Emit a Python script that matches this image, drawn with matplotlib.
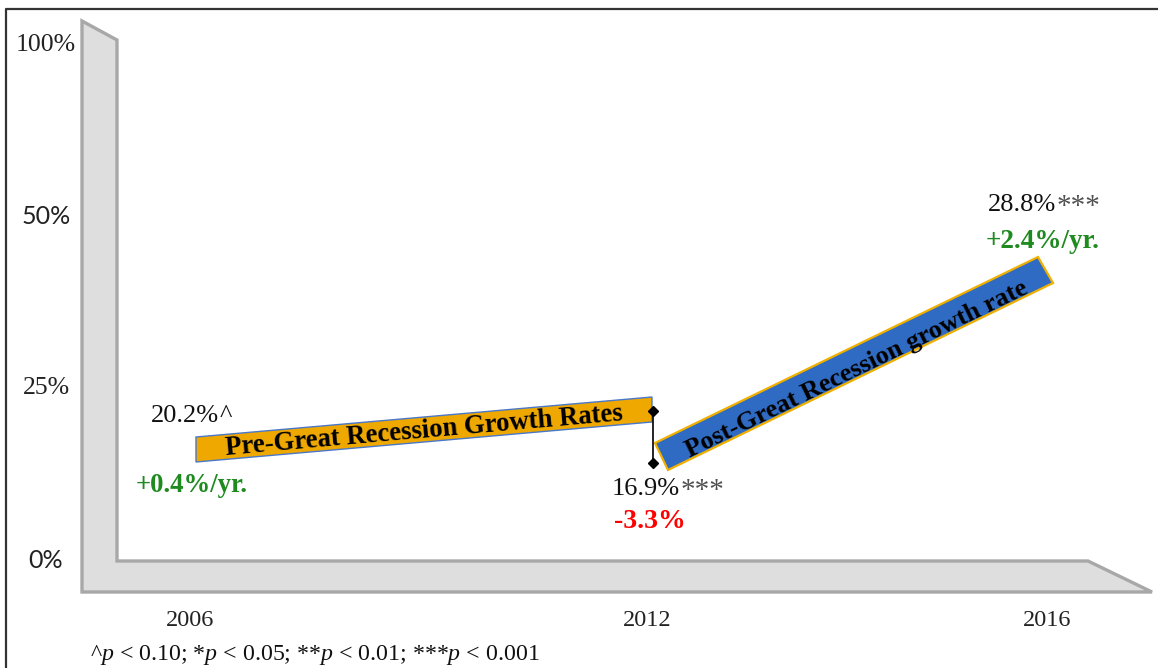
import numpy as np
import matplotlib
matplotlib.use("Agg")
import matplotlib.pyplot as plt
from matplotlib.patches import Polygon

# --- data -------------------------------------------------------------
years = ["2006", "2012", "2016"]
point_values = [20.2, 16.9, 28.8]
point_stars = ["^", "***", "***"]
rate_labels = ["+0.4%/yr.", "-3.3%", "+2.4%/yr."]
rate_colors = ["#1f8a1f", "#ff0000", "#1f8a1f"]
y_tick_values = [0, 25, 50, 100]
y_tick_labels = ["0%", "25%", "50%", "100%"]
segment_names = ["Pre-Great Recession Growth Rates",
                 "Post-Great Recession growth rate"]
footnote = r"^$p$ < 0.10; *$p$ < 0.05; **$p$ < 0.01; ***$p$ < 0.001"

# --- layout (pixel canvas) --------------------------------------------
W, H = 1158, 668
fig = plt.figure(figsize=(W / 100, H / 100), dpi=100)
ax = fig.add_axes([0, 0, 1, 1])
ax.set_xlim(0, W)
ax.set_ylim(H, 0)
ax.axis("off")

plt.rcParams["font.family"] = ["Liberation Serif", "DejaVu Serif"]
plt.rcParams["mathtext.fontset"] = "custom"
plt.rcParams["mathtext.it"] = "Liberation Serif:italic"
plt.rcParams["mathtext.rm"] = "Liberation Serif"

SERIF = ["Liberation Serif", "DejaVu Serif"]
SANS = ["Lato", "DejaVu Sans"]

# outer frame
ax.plot([6, 6, W], [H, 9, 9], color="#333333", lw=1.6, solid_capstyle="butt")

# 3-D style wall and floor
wall = Polygon([(82, 21), (117, 40), (117, 561), (1088, 561),
                (1152, 592), (82, 592)], closed=True,
               facecolor="#dedede", edgecolor="#a8a8a8", lw=2.4,
               joinstyle="miter")
ax.add_patch(wall)

# y tick positions on an evenly spaced (broken) scale
tick_px = np.interp(np.arange(len(y_tick_values)), [0, 3], [560, 45])
tick_fonts = [(SANS, 18), (SERIF, 18.5), (SANS, 18), (SERIF, 18.5)]
for lab, yp, (fam, fs) in zip(y_tick_labels, tick_px, tick_fonts):
    ax.text(46, yp, lab, ha="center", va="center", fontsize=fs,
            family=fam, color="#222222")

# x tick labels
year_px = [190, 647, 1047]
for lab, xp in zip(years, year_px):
    ax.text(xp, 620, lab, ha="center", va="center", fontsize=17.5,
            color="#222222")

# growth ribbons
orange = "#eea800"
blue = "#2f6bc3"
pre = Polygon([(196, 437), (652, 397), (652, 422), (196, 462)],
              closed=True, facecolor=orange, edgecolor="#4a78c8", lw=1.0)
ax.add_patch(pre)
ax.text(424, 431, segment_names[0], rotation=5.0, rotation_mode="anchor",
        ha="center", va="center", fontsize=19.3, fontweight="bold",
        color="black")

post = Polygon([(655, 443), (1038, 257), (1053, 283), (668, 470)],
               closed=True, facecolor=blue, edgecolor="#f0b000", lw=1.6)
ax.add_patch(post)
ax.text(857, 369, segment_names[1], rotation=25.9, rotation_mode="anchor",
        ha="center", va="center", fontsize=19, fontweight="bold",
        color="black")

# drop between the two periods
ax.plot([653, 653], [411, 463], color="black", lw=1.2, marker="D",
        markersize=5, zorder=5)

# point annotations: value followed by significance marks
renderer = fig.canvas.get_renderer()
val_left = [151, 612, 988]
val_y = [416, 489, 205]
for v, s, xl, yp in zip(point_values, point_stars, val_left, val_y):
    t = ax.text(xl, yp, f"{v:.1f}%", ha="left", va="center", fontsize=19,
                color="#111111")
    bb = t.get_window_extent(renderer)
    x_end = ax.transData.inverted().transform((bb.x1, bb.y0))[0]
    if s == "^":
        ax.text(x_end, yp, s, ha="left", va="center", fontsize=19,
                color="#111111")
    else:
        ax.text(x_end, yp + 2, s, ha="left", va="center", fontsize=21,
                color="#505050")

# growth-rate annotations
rate_pos = [(192, 486), (650, 521), (1043, 241)]
rate_sizes = [19.3, 20, 19.5]
for r, c, (xp, yp), fs in zip(rate_labels, rate_colors, rate_pos, rate_sizes):
    ax.text(xp, yp, r, ha="center", va="center", fontsize=fs,
            fontweight="bold", color=c)

# significance footnote
ax.text(90, 655, footnote, ha="left", va="center", fontsize=17.2,
        color="#111111")

fig.savefig("out.png", dpi=100)
